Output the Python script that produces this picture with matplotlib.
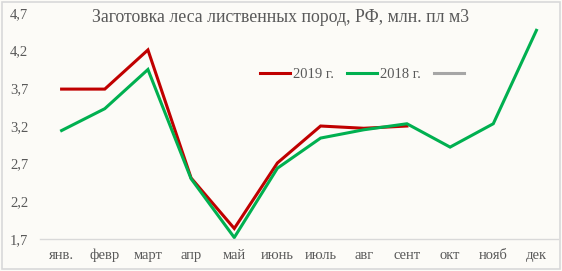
import matplotlib
matplotlib.use("Agg")
import matplotlib.pyplot as plt
from matplotlib.lines import Line2D
from matplotlib.ticker import FuncFormatter

months = ["янв.", "февр", "март", "апр", "май", "июнь", "июль", "авг",
          "сент", "окт", "нояб", "дек"]
v2019 = [3.69, 3.69, 4.21, 2.51, 1.84, 2.71, 3.20, 3.17, 3.20]
v2018 = [3.14, 3.43, 3.95, 2.50, 1.72, 2.64, 3.04, 3.15, 3.23, 2.92, 3.23, 4.47]
y_ticks = [1.7, 2.2, 2.7, 3.2, 3.7, 4.2, 4.7]

plt.rcParams["font.family"] = ["Liberation Serif", "DejaVu Serif"]
text_color = "#595959"
bg = "#FCFBF7"

fig = plt.figure(figsize=(5.62, 2.71), dpi=100, facecolor=bg)
# light frame around the whole chart
fig.patches.append(plt.Rectangle((0.003, 0.006), 0.994, 0.988, transform=fig.transFigure,
                                 fill=False, edgecolor="#D9D9D9", linewidth=1.2))
ax = fig.add_axes([0.0712, 0.118, 0.9217, 0.834])
ax.set_facecolor(bg)

x = list(range(len(months)))
ax.plot(x[:len(v2019)], v2019, color="#C00000", linewidth=2.2, solid_joinstyle="miter")
ax.plot(x, v2018, color="#00B050", linewidth=2.2, solid_joinstyle="miter")

ax.set_xlim(-0.5, len(months) - 0.5)
ax.set_ylim(1.7, 4.7)
ax.set_xticks(x)
ax.set_xticklabels(months)
ax.set_yticks(y_ticks)
ax.yaxis.set_major_formatter(FuncFormatter(lambda v, p: f"{v:.1f}".replace(".", ",")))
ax.tick_params(axis="both", length=0, labelsize=10.5, colors=text_color)
ax.tick_params(axis="x", pad=7)
ax.tick_params(axis="y", pad=8.5)

for s in ["top", "right", "left"]:
    ax.spines[s].set_visible(False)
ax.spines["bottom"].set_color("#D9D9D9")
ax.spines["bottom"].set_linewidth(1)

fig.text(0.5, 0.937, "Заготовка леса лиственных пород, РФ, млн. пл м3",
         ha="center", va="center", fontsize=12.75, color=text_color)

handles = [Line2D([], [], color="#C00000", linewidth=2.2),
           Line2D([], [], color="#00B050", linewidth=2.2),
           Line2D([], [], color="#A6A6A6", linewidth=2.2)]
ax.legend(handles, ["2019 г.", "2018 г.", ""], ncol=3, frameon=False,
          loc="center", bbox_to_anchor=(0.625, 0.728), fontsize=10.5,
          labelcolor=text_color, handlelength=2.05, handletextpad=0.2,
          columnspacing=0.9)

plt.savefig("out.png", dpi=100, facecolor=bg)
